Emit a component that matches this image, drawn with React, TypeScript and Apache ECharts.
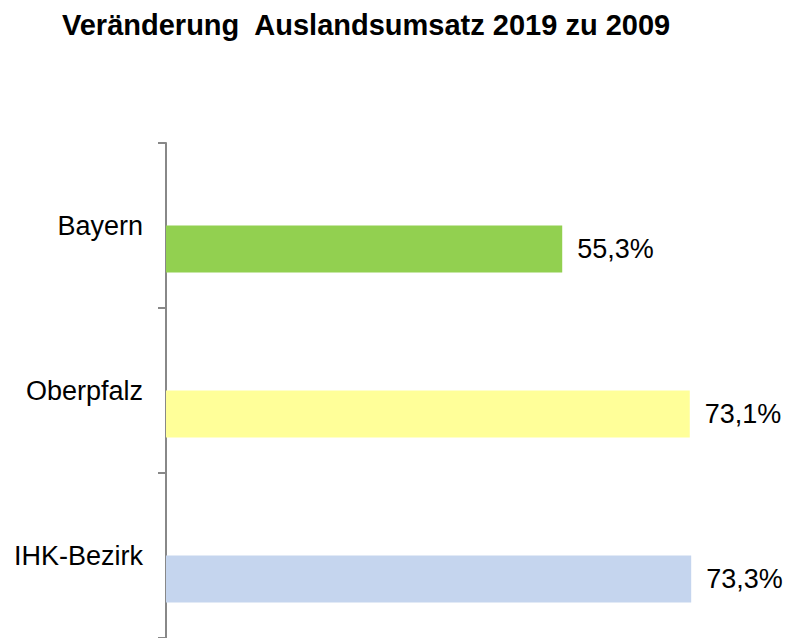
import React, { useEffect, useRef } from "react";
import * as echarts from "echarts";

const titleText = "Veränderung  Auslandsumsatz 2019 zu 2009";
const categories = ["Bayern", "Oberpfalz", "IHK-Bezirk"];
const values = [55.3, 73.1, 73.3];
const barColors = ["#92D050", "#FFFF99", "#C5D5EE"];

export default function App() {
  const ref = useRef<HTMLDivElement>(null);
  useEffect(() => {
    if (!ref.current) return;
    const chart = echarts.init(ref.current, null, { renderer: "svg" });
    const font = "'Liberation Sans', Arial, sans-serif";
    chart.setOption({
      animation: false,
      backgroundColor: "#ffffff",
      title: {
        text: titleText,
        left: 57,
        top: 5,
        textStyle: {
          fontFamily: font,
          fontSize: 29,
          fontWeight: "bold",
          color: "#000000",
        },
      },
      grid: { left: 166, top: 143, width: 573.2, height: 497, containLabel: false },
      xAxis: {
        type: "value",
        min: 0,
        max: 80,
        show: false,
      },
      yAxis: {
        type: "category",
        data: categories,
        inverse: true,
        axisLine: { show: true, lineStyle: { color: "#888888", width: 2 } },
        axisTick: { show: true, length: 8, lineStyle: { color: "#888888", width: 2 } },
        axisLabel: {
          margin: 23,
          fontFamily: font,
          fontSize: 27,
          color: "#000000",
        },
        splitLine: { show: false },
      },
      series: [
        {
          type: "bar",
          name: "spacer",
          data: values,
          barWidth: 47,
          barGap: "0%",
          silent: true,
          itemStyle: { color: "rgba(0,0,0,0)" },
          label: { show: false },
        },
        {
          type: "bar",
          name: "Veränderung",
          data: values.map((v, i) => ({ value: v, itemStyle: { color: barColors[i] } })),
          barWidth: 47,
          barGap: "0%",
          label: {
            show: true,
            position: "right",
            distance: 15,
            fontFamily: font,
            fontSize: 27,
            color: "#000000",
            formatter: (p: any) => String(p.value).replace(".", ",") + "%",
          },
        },
      ],
    });
    return () => chart.dispose();
  }, []);
  return (
    <div
      ref={ref}
      style={{ position: "fixed", left: 0, top: 0, width: 796, height: 638 }}
    />
  );
}
